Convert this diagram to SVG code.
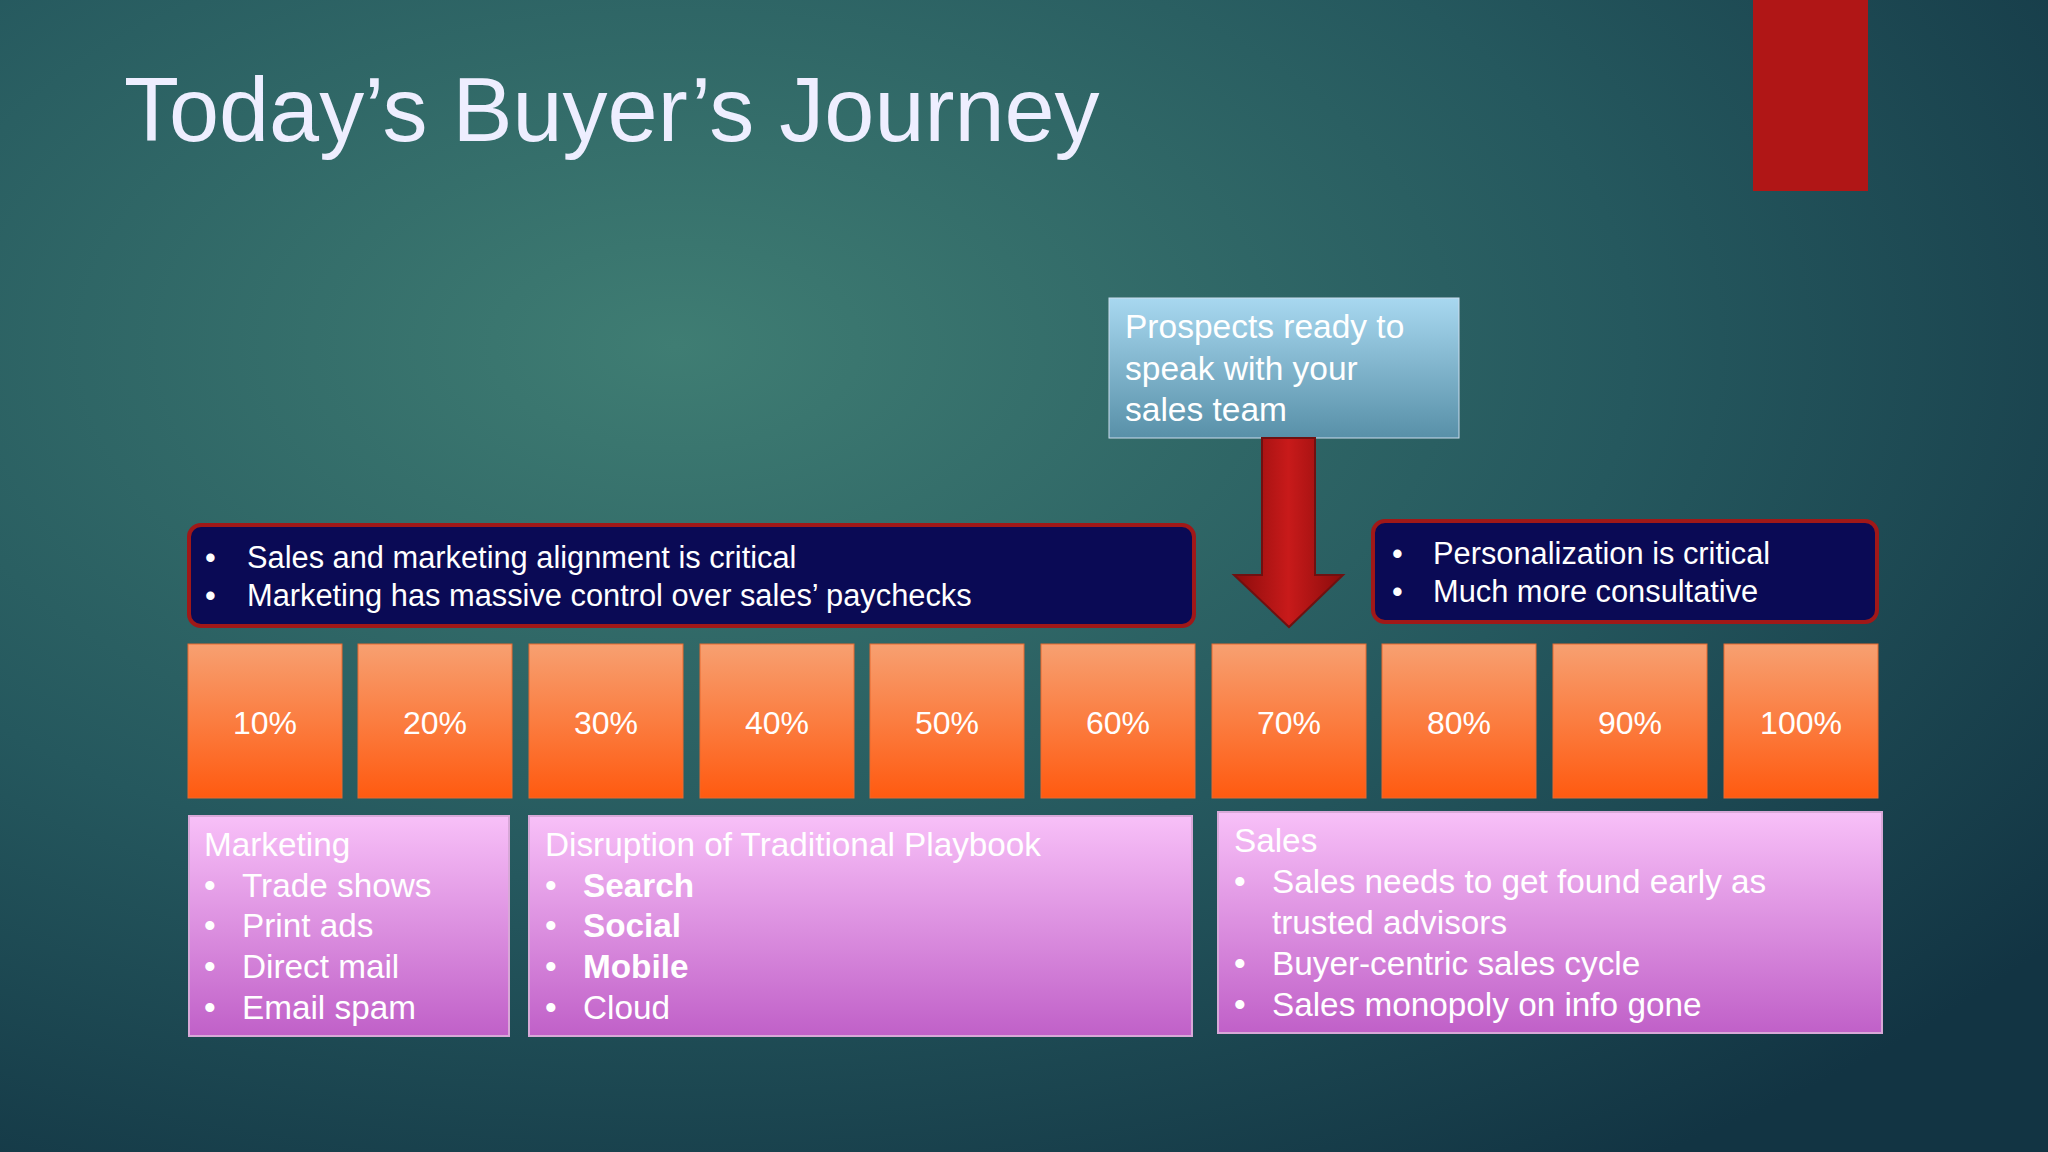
<svg xmlns="http://www.w3.org/2000/svg" width="2048" height="1152" viewBox="0 0 2048 1152">
<defs>
<radialGradient id="bg" cx="0.33" cy="0.3" r="0.85">
<stop offset="0" stop-color="#3f7d73"/><stop offset="0.55" stop-color="#25585e"/><stop offset="1" stop-color="#123443"/>
</radialGradient>
<linearGradient id="or" x1="0" y1="0" x2="0" y2="1"><stop offset="0" stop-color="#f7a071"/><stop offset="1" stop-color="#ff5a10"/></linearGradient>
<linearGradient id="pk" x1="0" y1="0" x2="0" y2="1"><stop offset="0" stop-color="#f8c0f8"/><stop offset="1" stop-color="#c060c8"/></linearGradient>
<linearGradient id="bl" x1="0" y1="0" x2="0" y2="1"><stop offset="0" stop-color="#a8d8f0"/><stop offset="1" stop-color="#5890a8"/></linearGradient>
<linearGradient id="rd" x1="0" y1="0" x2="1" y2="0"><stop offset="0" stop-color="#8a0c0c"/><stop offset="0.5" stop-color="#c81a1a"/><stop offset="1" stop-color="#8a0c0c"/></linearGradient>
</defs>
<style>
text{font-family:"Liberation Sans",Arial,sans-serif;fill:#fff}
.o{fill:url(#or);stroke:#e86a30;stroke-width:1}
.ot{font-size:32px;text-anchor:middle}
.p{fill:url(#pk);stroke:#d8a8d8;stroke-width:2}
.pt{font-size:33.3px}
.d{fill:#0a0a55;stroke:#a01818;stroke-width:4}
.dt{font-size:30.8px}
</style>
<rect width="2048" height="1152" fill="url(#bg)"/>
<text x="124" y="141" style="font-size:90px;fill:#eef">Today’s Buyer’s Journey</text>
<rect x="1753" y="0" width="115" height="191" fill="#b01616"/>
<g id="prospects"><rect x="1109" y="298" width="350" height="140" fill="url(#bl)" stroke="#cde" stroke-width="1"/>
<text style="font-size:33.5px"><tspan x="1125" y="338">Prospects ready to</tspan><tspan x="1125" y="380">speak with your</tspan><tspan x="1125" y="421">sales team</tspan></text></g>
<g id="connectors"><polygon points="1262,438 1315,438 1315,575 1343,575 1289,627 1234,575 1262,575" fill="url(#rd)" stroke="#701010" stroke-width="2"/></g>
<g id="align"><rect class="d" x="189" y="525" width="1005" height="101" rx="12"/>
<text class="dt"><tspan x="205" y="568">•</tspan><tspan x="247" y="568">Sales and marketing alignment is critical</tspan><tspan x="205" y="606">•</tspan><tspan x="247" y="606">Marketing has massive control over sales’ paychecks</tspan></text></g>
<g id="personal"><rect class="d" x="1373" y="521" width="504" height="101" rx="12"/>
<text class="dt"><tspan x="1392" y="564">•</tspan><tspan x="1433" y="564">Personalization is critical</tspan><tspan x="1392" y="602">•</tspan><tspan x="1433" y="602">Much more consultative</tspan></text></g>
<g id="p10"><rect class="o" x="188" y="644" width="154" height="154"/><text class="ot" x="265" y="734">10%</text></g>
<g id="p20"><rect class="o" x="358" y="644" width="154" height="154"/><text class="ot" x="435" y="734">20%</text></g>
<g id="p30"><rect class="o" x="529" y="644" width="154" height="154"/><text class="ot" x="606" y="734">30%</text></g>
<g id="p40"><rect class="o" x="700" y="644" width="154" height="154"/><text class="ot" x="777" y="734">40%</text></g>
<g id="p50"><rect class="o" x="870" y="644" width="154" height="154"/><text class="ot" x="947" y="734">50%</text></g>
<g id="p60"><rect class="o" x="1041" y="644" width="154" height="154"/><text class="ot" x="1118" y="734">60%</text></g>
<g id="p70"><rect class="o" x="1212" y="644" width="154" height="154"/><text class="ot" x="1289" y="734">70%</text></g>
<g id="p80"><rect class="o" x="1382" y="644" width="154" height="154"/><text class="ot" x="1459" y="734">80%</text></g>
<g id="p90"><rect class="o" x="1553" y="644" width="154" height="154"/><text class="ot" x="1630" y="734">90%</text></g>
<g id="p100"><rect class="o" x="1724" y="644" width="154" height="154"/><text class="ot" x="1801" y="734">100%</text></g>
<g id="marketing"><rect class="p" x="189" y="816" width="320" height="220"/>
<text class="pt"><tspan x="204" y="856">Marketing</tspan><tspan x="204" y="897">•</tspan><tspan x="242" y="897">Trade shows</tspan><tspan x="204" y="937">•</tspan><tspan x="242" y="937">Print ads</tspan><tspan x="204" y="978">•</tspan><tspan x="242" y="978">Direct mail</tspan><tspan x="204" y="1019">•</tspan><tspan x="242" y="1019">Email spam</tspan></text></g>
<g id="disruption"><rect class="p" x="529" y="816" width="663" height="220"/>
<text class="pt"><tspan x="545" y="856">Disruption of Traditional Playbook</tspan><tspan x="545" y="897">•</tspan><tspan x="583" y="897" font-weight="bold">Search</tspan><tspan x="545" y="937">•</tspan><tspan x="583" y="937" font-weight="bold">Social</tspan><tspan x="545" y="978">•</tspan><tspan x="583" y="978" font-weight="bold">Mobile</tspan><tspan x="545" y="1019">•</tspan><tspan x="583" y="1019">Cloud</tspan></text></g>
<g id="sales"><rect class="p" x="1218" y="812" width="664" height="221"/>
<text class="pt"><tspan x="1234" y="852">Sales</tspan><tspan x="1234" y="893">•</tspan><tspan x="1272" y="893">Sales needs to get found early as</tspan><tspan x="1272" y="934">trusted advisors</tspan><tspan x="1234" y="975">•</tspan><tspan x="1272" y="975">Buyer-centric sales cycle</tspan><tspan x="1234" y="1016">•</tspan><tspan x="1272" y="1016">Sales monopoly on info gone</tspan></text></g>
</svg>
